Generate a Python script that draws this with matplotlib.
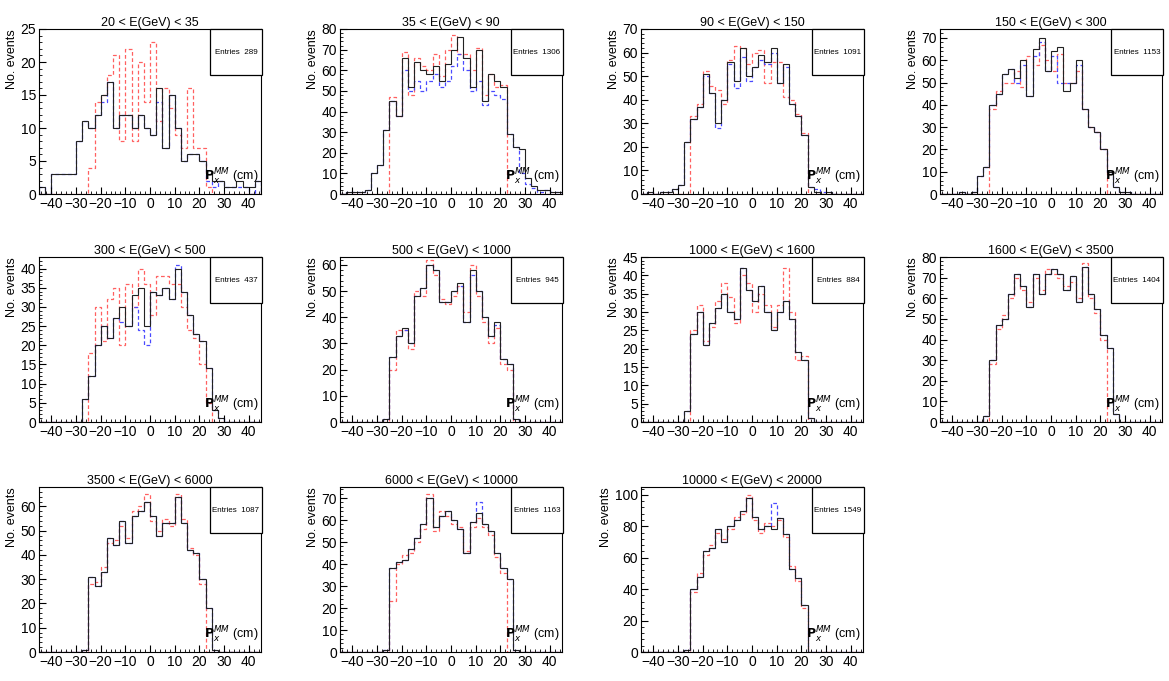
import numpy as np
import matplotlib
matplotlib.use("Agg")
import matplotlib.pyplot as plt
from matplotlib.patches import Rectangle
from matplotlib.ticker import MultipleLocator

plt.rcParams['font.family'] = ['Liberation Sans', 'DejaVu Sans']

titles = ["20 < E(GeV) < 35", "35 < E(GeV) < 90", "90 < E(GeV) < 150", "150 < E(GeV) < 300",
          "300 < E(GeV) < 500", "500 < E(GeV) < 1000", "1000 < E(GeV) < 1600", "1600 < E(GeV) < 3500",
          "3500 < E(GeV) < 6000", "6000 < E(GeV) < 10000", "10000 < E(GeV) < 20000"]
entries = [289, 1306, 1091, 1153, 437, 945, 884, 1404, 1087, 1163, 1549]
ymax = [25, 80, 70, 74, 43, 63, 45, 80, 68, 75, 105]
ystep = [5, 10, 10, 10, 5, 10, 5, 10, 10, 10, 20]

black = [
    [1,0,3,3,3,3,8,11,10,12,15,17,10,12,12,10,12,10,9,16,7,15,10,5,6,6,5,3,2,2,1,1,2,1,1,2],
    [0,1,1,1,2,10,14,31,45,38,66,52,64,60,58,62,55,63,70,76,66,52,70,45,58,55,52,29,23,22,8,4,2,2,1,1],
    [0,1,0,1,1,2,4,22,32,37,51,43,30,40,56,48,62,50,54,59,56,62,47,55,38,33,25,3,1,0,1,0,0,0,0,0],
    [0,0,0,1,0,1,8,12,40,45,54,56,52,60,44,65,70,55,64,66,46,50,60,38,30,28,20,10,3,1,1,0,0,0,0,0],
    [0,0,0,0,0,0,0,6,12,20,25,22,27,30,25,33,35,25,34,33,35,32,40,34,28,23,21,14,3,1,0,0,0,0,0,0],
    [0,0,0,0,0,0,0,1,25,33,36,30,48,51,60,58,46,46,50,53,38,58,50,40,33,38,24,22,1,0,0,0,0,0,0,0],
    [0,0,0,0,0,0,0,3,24,30,21,27,31,35,30,28,42,36,33,37,30,25,30,33,28,19,17,1,0,0,0,0,0,0,0,0],
    [0,0,0,0,0,0,0,3,30,47,50,62,72,66,56,72,62,72,74,72,64,71,58,75,62,55,42,36,4,0,0,0,0,0,0,0],
    [0,0,0,0,0,0,0,1,31,27,33,47,44,54,45,56,58,62,56,48,53,53,64,53,42,41,30,18,1,0,0,0,0,0,0,0],
    [0,0,0,0,0,0,0,1,38,41,42,47,52,58,70,57,62,64,60,56,45,59,63,58,55,45,38,33,1,0,0,0,0,0,0,0],
    [0,0,0,0,0,0,0,1,40,48,64,66,78,70,80,84,90,98,86,78,80,78,85,75,53,47,30,0,0,0,0,0,0,0,0,0],
]
blue = [
    [1,0,3,3,3,3,8,11,10,12,14,17,10,12,12,10,12,10,9,14,7,15,10,5,6,6,5,2,1,2,1,1,1,1,0,2],
    [0,1,1,1,2,10,14,31,45,38,60,50,55,50,55,58,52,55,62,68,60,50,55,43,50,48,46,29,23,10,5,3,1,2,1,1],
    [0,1,0,1,1,2,4,22,32,37,50,43,28,40,55,45,58,48,54,57,55,60,47,54,38,33,25,3,2,1,1,0,0,0,0,0],
    [0,0,0,1,0,1,8,12,40,45,54,56,50,58,44,62,68,55,62,50,50,50,58,38,30,28,20,10,3,1,1,0,0,0,0,0],
    [0,0,0,0,0,0,0,6,12,20,25,22,27,26,25,30,24,20,34,33,35,32,41,34,28,23,21,14,3,1,0,0,0,0,0,0],
    [0,0,0,0,0,0,0,1,25,33,35,30,48,51,60,58,46,46,50,52,38,56,50,40,33,37,24,22,1,0,0,0,0,0,0,0],
    [0,0,0,0,0,0,0,3,24,30,21,27,31,35,30,28,42,36,33,37,30,25,30,33,28,19,17,1,0,0,0,0,0,0,0,0],
    [0,0,0,0,0,0,0,3,30,47,50,62,72,66,56,72,62,72,74,72,64,71,58,75,62,55,42,36,4,0,0,0,0,0,0,0],
    [0,0,0,0,0,0,0,1,31,27,33,47,44,54,45,56,58,62,56,48,53,53,64,53,42,41,30,18,1,0,0,0,0,0,0,0],
    [0,0,0,0,0,0,0,1,38,41,42,47,52,58,70,57,62,64,60,56,45,59,68,58,55,45,38,33,1,0,0,0,0,0,0,0],
    [0,0,0,0,0,0,0,1,40,48,64,66,78,70,80,84,90,98,86,78,80,95,85,75,53,47,30,0,0,0,0,0,0,0,0,0],
]
red = [
    [0,0,0,0,0,0,0,0,4,14,15,18,21,8,22,8,20,14,23,11,16,13,9,7,16,7,7,1,0,0,0,0,0,0,0,0],
    [0,0,0,0,0,0,0,0,47,38,69,48,66,62,60,68,57,70,77,68,68,60,71,48,58,52,53,0,0,0,0,0,0,0,0,0],
    [0,0,0,0,0,0,0,0,33,38,52,46,44,38,57,63,62,55,60,61,47,56,56,41,40,34,26,0,0,0,0,0,0,0,0,0],
    [0,0,0,0,0,0,0,0,38,46,50,50,55,48,62,58,67,60,55,63,50,50,55,38,30,28,20,0,0,0,0,0,0,0,0,0],
    [0,0,0,0,0,0,0,0,18,30,21,32,35,20,36,30,40,36,28,38,38,36,36,30,24,22,15,5,0,0,0,0,0,0,0,0],
    [0,0,0,0,0,0,0,0,20,35,35,28,50,48,62,56,47,45,48,52,42,60,48,38,30,36,22,20,0,0,0,0,0,0,0,0],
    [0,0,0,0,0,0,0,0,25,32,22,26,33,38,34,27,40,38,30,35,32,26,32,42,30,17,18,0,0,0,0,0,0,0,0,0],
    [0,0,0,0,0,0,0,0,28,45,52,60,70,64,58,70,64,74,72,70,66,68,60,77,60,53,40,0,0,0,0,0,0,0,0,0],
    [0,0,0,0,0,0,0,0,28,29,35,45,46,52,47,58,60,65,54,50,55,52,65,55,43,40,28,0,0,0,0,0,0,0,0,0],
    [0,0,0,0,0,0,0,0,23,40,44,45,50,56,72,55,64,62,58,57,46,57,61,57,53,43,36,0,0,0,0,0,0,0,0,0],
    [0,0,0,0,0,0,0,0,38,50,62,68,76,72,78,86,88,100,84,76,82,80,84,73,55,45,28,0,0,0,0,0,0,0,0,0],
]

bin_edges = np.arange(-45, 45.01, 2.5)

W, H = 1169, 681
fig = plt.figure(figsize=(W / 100, H / 100), dpi=100)
col_left = [39, 340, 641, 940]
row_top = [29, 257, 487]
aw, ah = 222, 165

for k in range(11):
    r, c = divmod(k, 4)
    left = col_left[c] / W
    bottom = 1 - (row_top[r] + ah) / H
    ax = fig.add_axes([left, bottom, aw / W, ah / H])
    ax.stairs(red[k], bin_edges, color='#ff6060', lw=0.9, ls=(0, (3, 2)))
    ax.stairs(blue[k], bin_edges, color='#4a4aff', lw=0.9, ls=(0, (3, 2)))
    ax.stairs(black[k], bin_edges, color='#222222', lw=0.8)
    ax.set_xlim(-45, 45)
    ax.set_ylim(0, ymax[k])
    ax.xaxis.set_major_locator(MultipleLocator(10))
    ax.xaxis.set_minor_locator(MultipleLocator(2))
    ax.yaxis.set_major_locator(MultipleLocator(ystep[k]))
    ax.yaxis.set_minor_locator(MultipleLocator(ystep[k] / 5))
    ax.tick_params(which='both', direction='in', top=False, right=False, labelsize=10, pad=2)
    ax.tick_params(which='major', length=5, width=0.8)
    ax.tick_params(which='minor', length=2.5, width=0.6)
    for s in ax.spines.values():
        s.set_linewidth(0.8)
    ax.set_title(titles[k], fontsize=9, pad=1)
    ax.set_ylabel("No. events", fontsize=9, loc='top', labelpad=2)
    # stat box
    ax.add_patch(Rectangle((0.77, 0.72), 0.235, 0.28, transform=ax.transAxes,
                           facecolor='white', edgecolor='black', lw=0.9, clip_on=False, zorder=5))
    ax.text(0.887, 0.86, f"Entries  {entries[k]}", transform=ax.transAxes, fontsize=5.8,
            ha='center', va='center', zorder=6)
    ax.text(0.99, 0.04, r"$\mathbf{P}_{x}^{MM}$ (cm)", transform=ax.transAxes, fontsize=9,
            ha='right', va='bottom', zorder=6)

fig.savefig("out.png", dpi=100)
